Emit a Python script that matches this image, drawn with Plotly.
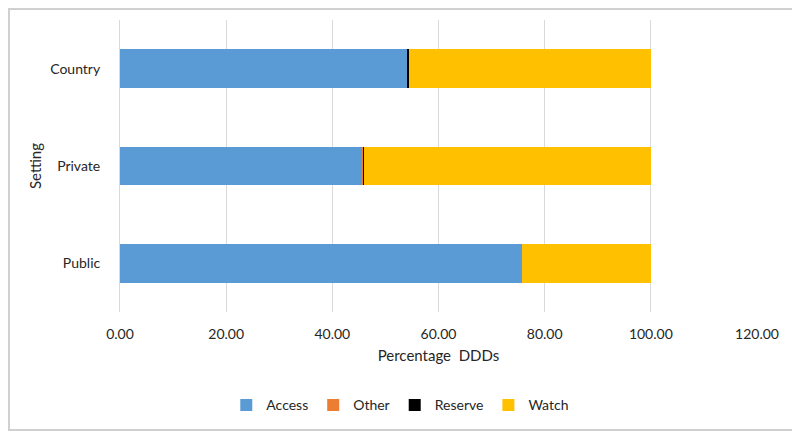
import plotly.graph_objects as go

settings = ["Public", "Private", "Country"]
access = [75.8, 45.7, 54.1]
other = [0.0, 0.15, 0.05]
reserve = [0.0, 0.1, 0.35]
watch = [24.2, 54.05, 45.5]

series = [("Access", access, "#5b9bd5"),
          ("Other", other, "#ed7d31"),
          ("Reserve", reserve, "#000000"),
          ("Watch", watch, "#ffc000")]

fig = go.Figure()
for name, vals, col in series:
    fig.add_trace(go.Bar(y=settings, x=vals, name=name, orientation="h",
                         marker=dict(color=col, line=dict(width=0))))

# page body has an 8px margin, so the figure is a bit smaller than the window
fig.update_layout(
    barmode="stack",
    bargap=0.6,
    width=792, height=424,
    margin=dict(l=112, r=43, t=12, b=120, autoexpand=False),
    paper_bgcolor="white", plot_bgcolor="white",
    font=dict(family="Lato, Open Sans, sans-serif", size=14, color="#262626"),
    legend=dict(orientation="h", x=0.44, xanchor="center", y=-0.265, yanchor="top",
                font=dict(size=14), traceorder="normal", itemwidth=30),
    showlegend=True,
)
fig.update_xaxes(range=[0, 120], dtick=20, tickformat=".2f", automargin=False,
                 showgrid=True, gridcolor="#d9d9d9", gridwidth=1,
                 zeroline=False, showline=False, ticklabelstandoff=12,
                 title=dict(text="Percentage  DDDs", standoff=9, font=dict(size=15)))
fig.update_yaxes(showgrid=False, showline=True, linecolor="#d9d9d9", automargin=False,
                 ticklabelstandoff=16,
                 title=dict(text="Setting", standoff=4, font=dict(size=15)))
fig.add_shape(type="rect", xref="paper", yref="paper", x0=-0.1743, x1=1.0628, y0=-0.404, y1=1.0377,
              line=dict(color="#d0d0d0", width=2), layer="below")

fig.write_html("out.html")
